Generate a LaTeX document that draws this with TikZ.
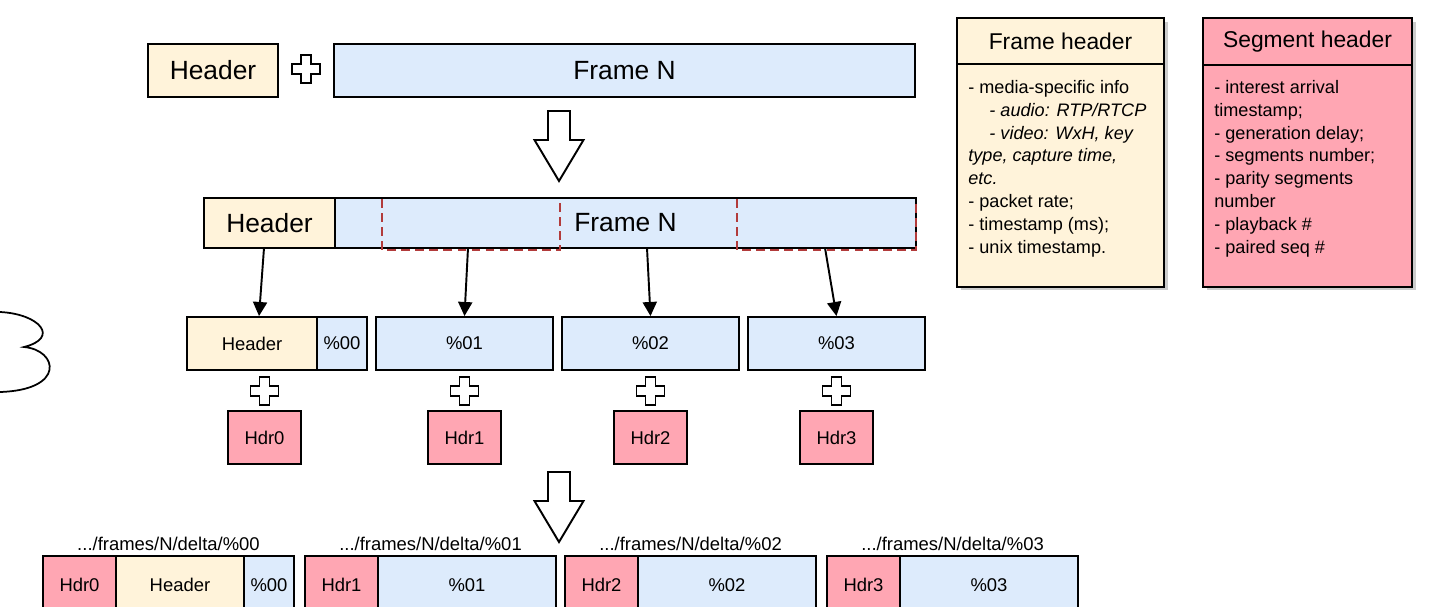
\documentclass[tikz,border=0pt]{standalone}
\usepackage{fontspec}
\setmainfont{Liberation Sans}
\usetikzlibrary{arrows.meta,shadows}

\definecolor{hdrfill}{HTML}{FFF3DA}
\definecolor{frmfill}{HTML}{DDEBFC}
\definecolor{pinkfill}{HTML}{FFA6B3}
\definecolor{dashred}{HTML}{B23B3B}

\tikzset{
  box/.style={draw, line width=1.1pt, inner sep=0pt, minimum height=1.06cm,
    font=\fontsize{10.5}{12}\selectfont},
  hdrbox/.style={box, fill=hdrfill},
  frmbox/.style={box, fill=frmfill},
  pinkbox/.style={box, fill=pinkfill},
  bigtext/.style={font=\fontsize{15}{18}\selectfont},
  segdash/.style={dashred, line width=1pt, dash pattern=on 5pt off 3pt},
  cut/.style={-{Triangle[length=8pt,width=8pt]}, line width=1.1pt},
  legendtext/.style={anchor=north west, inner sep=0pt, align=left,
    font=\fontsize{10.3}{13}\selectfont},
  pathlbl/.style={inner sep=0pt, font=\fontsize{10.5}{12}\selectfont},
  plusmark/.pic={
    \draw[line width=1.1pt, fill=white] (-5,-14) -- (5,-14) -- (5,-5) -- (14,-5)
      -- (14,5) -- (5,5) -- (5,14) -- (-5,14) -- (-5,5) -- (-14,5) -- (-14,-5)
      -- (-5,-5) -- cycle;
  },
  bigarrow/.pic={
    \draw[line width=1.1pt, fill=white] (-11,0) -- (11,0) -- (11,29) -- (24.5,29)
      -- (0,70) -- (-24.5,29) -- (-11,29) -- cycle;
  }
}

\begin{document}
\begin{tikzpicture}[x=0.02cm, y=-0.02cm]
  \useasboundingbox (0,0) rectangle (1452,607);

  % frame before segmentation
  \node[hdrbox, bigtext, minimum width=2.6cm] (topHdr) at (213,70.5) {Header};
  \node[frmbox, bigtext, minimum width=11.62cm] (topFrm) at (624.5,70.5) {Frame N};
  \pic at (306,69) {plusmark};
  \pic at (559,111) {bigarrow};

  % frame with header inside
  \node[hdrbox, bigtext, minimum width=2.62cm, minimum height=1.0cm] (midHdr) at (269.5,223) {Header};
  \node[frmbox, bigtext, minimum width=11.62cm, minimum height=1.0cm] (midFrm) at (625.5,223) {Frame N};
  \draw[segdash] (382,199) -- (382,250) -- (560,250) -- (560,199);
  \draw[segdash] (737,199) -- (737,250) -- (916,250) -- (916,199);

  % segments
  \node[hdrbox, minimum width=2.6cm] (s0h) at (252,343.5) {Header};
  \node[frmbox, minimum width=1.0cm] (s0) at (342,343.5) {\%00};
  \foreach \i/\x in {1/464.5,2/650.5,3/836.5} {
    \node[frmbox, minimum width=3.54cm] (s\i) at (\x,343.5) {\%0\i};
  }
  \coordinate (a0) at (264,248);
  \coordinate (a1) at (468,248);
  \coordinate (a2) at (647,248);
  \coordinate (a3) at (825,248);
  \draw[cut] (a0) -- ([xshift=4pt]s0h.north);
  \foreach \i in {1,2,3} {
    \draw[cut] (a\i) -- (s\i.north);
  }

  % segment headers
  \foreach \i/\x in {0/264.5,1/464.5,2/650.5,3/836.5} {
    \pic at (\x,391) {plusmark};
    \node[pinkbox, minimum width=1.46cm] (h\i) at (\x,437.5) {Hdr\i};
  }
  \pic at (559,472) {bigarrow};

  % named segments
  \node[pinkbox, minimum width=1.46cm, minimum height=1.16cm] (n0h) at (79.5,585) {Hdr0};
  \node[hdrbox, minimum width=2.56cm, minimum height=1.16cm] (n0f) at (180,585) {Header};
  \node[frmbox, minimum width=1.0cm, minimum height=1.16cm] (n0) at (269,585) {\%00};
  \node[pathlbl] (p0) at (168.5,544) {.../frames/N/delta/\%00};
  \foreach \i/\x in {1/305,2/565,3/827} {
    \node[pinkbox, minimum width=1.46cm, minimum height=1.16cm] (n\i h) at (\x+36.5,585) {Hdr\i};
    \node[frmbox, minimum width=3.56cm, minimum height=1.16cm] (n\i) at (\x+162,585) {\%0\i};
    \node[pathlbl] (p\i) at (\x+125.5,544) {.../frames/N/delta/\%0\i};
  }

  % legend
  \node[hdrbox, minimum width=4.14cm, minimum height=0.92cm, drop shadow={shadow xshift=2pt, shadow yshift=-2pt, opacity=0.4},
    font=\fontsize{13}{15}\selectfont] (fhTitle) at (1060.5,41) {Frame header};
  \node[hdrbox, minimum width=4.14cm, minimum height=4.46cm, drop shadow={shadow xshift=2pt, shadow yshift=-2pt, opacity=0.4}]
    (fhBody) at (1060.5,175.5) {};
  \node[legendtext] (fhText) at (968,80) {- media-specific info\\
    \hspace*{12pt}\textit{- audio: RTP/RTCP}\\
    \hspace*{12pt}\textit{- video: WxH, key}\\
    \textit{type, capture time,}\\
    \textit{etc.}\\
    - packet rate;\\
    - timestamp (ms);\\
    - unix timestamp.};

  \node[pinkbox, minimum width=4.18cm, minimum height=0.94cm, drop shadow={shadow xshift=2pt, shadow yshift=-2pt, opacity=0.4},
    font=\fontsize{13}{15}\selectfont] (shTitle) at (1307.5,41.5) {Segment header};
  \node[pinkbox, minimum width=4.18cm, minimum height=4.44cm, drop shadow={shadow xshift=2pt, shadow yshift=-2pt, opacity=0.4}]
    (shBody) at (1307.5,176) {};
  \node[legendtext] (shText) at (1214,80) {- interest arrival\\
    timestamp;\\
    - generation delay;\\
    - segments number;\\
    - parity segments\\
    number\\
    - playback \#\\
    - paired seq \#};

  % cloud edge
  \draw[line width=1pt] (0,312) .. controls (40,314) and (60,338) .. (24,347)
    .. controls (58,350) and (66,390) .. (0,392);
\end{tikzpicture}
\end{document}
